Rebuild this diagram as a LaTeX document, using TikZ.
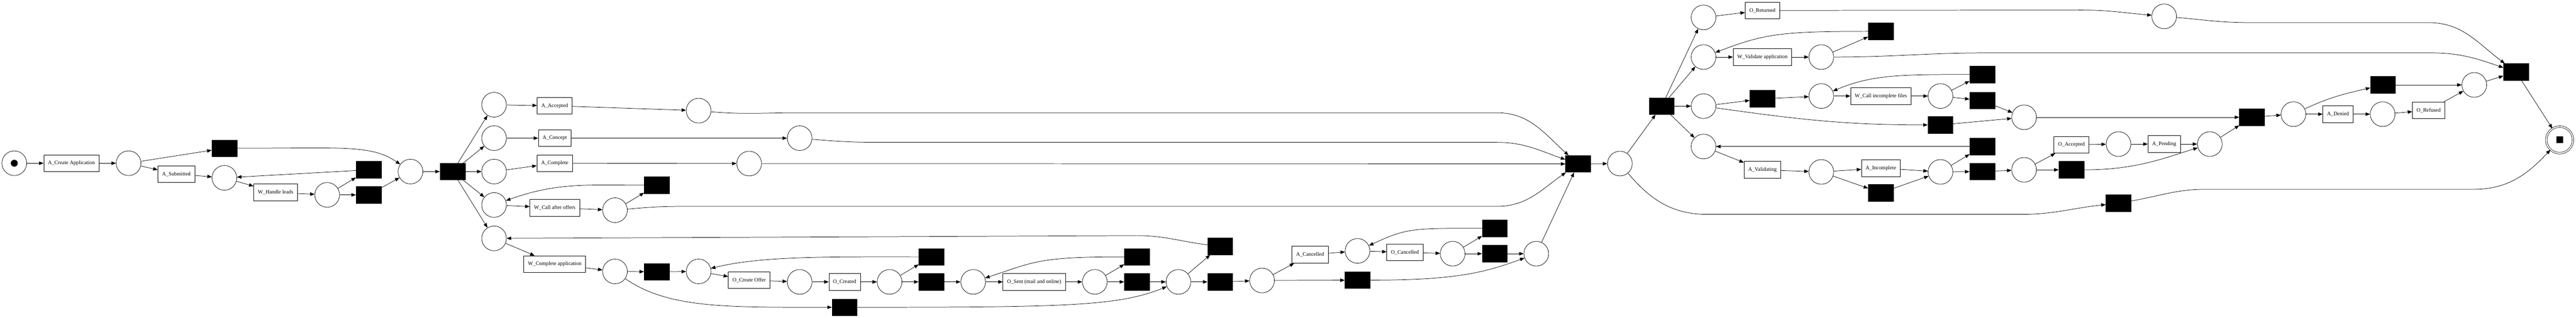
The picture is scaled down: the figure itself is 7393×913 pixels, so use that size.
\documentclass[tikz,border=0pt]{standalone}
\usepackage{fontspec}
\setmainfont{Liberation Serif}
\usetikzlibrary{arrows.meta}

\begin{document}
\begin{tikzpicture}[x=1pt, y=1pt, line width=1.1pt, >={Triangle[length=13pt,width=10pt]},
  placenode/.style={circle, draw, minimum size=71pt, inner sep=0pt},
  transbox/.style={draw, minimum height=48pt, inner xsep=12pt, inner ysep=0pt, font=\fontsize{15.3}{18}\selectfont},
  silent/.style={draw, fill=black, minimum width=72pt, minimum height=48pt, inner sep=0pt}]
\useasboundingbox (0,0) rectangle (7393,-913);
%start and first activities
\node[placenode] (start) at (41,-469) {};
\node[circle, fill=black, minimum size=20pt, inner sep=0pt] (tok0) at (start) {};
\node[transbox] (aCreate) at (205,-469) {A\_Create Application};
\node[placenode] (p1) at (369,-469) {};
\node[silent] (tA) at (644,-426) {};
\node[transbox] (aSub) at (506,-500) {A\_Submitted};
\node[placenode] (p2) at (644,-511) {};
\node[transbox] (wHandle) at (791,-553) {W\_Handle leads};
\node[placenode] (p3) at (939,-560) {};
\node[silent] (tB) at (1058,-488) {};
\node[silent] (tC) at (1058,-560) {};
\node[placenode] (p4) at (1178,-493) {};
\node[silent] (tD) at (1299,-493) {};
%parallel branches
\node[placenode] (pA) at (1418,-301) {};
\node[placenode] (pB) at (1418,-397) {};
\node[placenode] (pC) at (1418,-493) {};
\node[placenode] (pD) at (1418,-589) {};
\node[placenode] (pE) at (1418,-685) {};
\node[transbox] (aAcc) at (1592,-304) {A\_Accepted};
\node[transbox] (aCon) at (1592,-397) {A\_Concept};
\node[transbox] (aCom) at (1592,-469) {A\_Complete};
\node[transbox] (wCall) at (1592,-597) {W\_Call after offers};
\node[transbox] (wComp) at (1592,-759) {W\_Complete application};
\node[placenode] (pA2) at (2005,-318) {};
\node[placenode] (pB2) at (2295,-397) {};
\node[placenode] (pC2) at (2150,-470) {};
\node[placenode] (pD2) at (1765,-604) {};
\node[silent] (tE) at (1885,-532) {};
%offers
\node[placenode] (pF) at (1765,-780) {};
\node[silent] (tF) at (1885,-781) {};
\node[placenode] (pG) at (2005,-780) {};
\node[transbox] (oCreate) at (2150,-805) {O\_Create Offer};
\node[placenode] (pH) at (2295,-810) {};
\node[transbox] (oCreated) at (2424,-810) {O\_Created};
\node[placenode] (pI) at (2553,-810) {};
\node[silent] (tG) at (2673,-738) {};
\node[silent] (tH) at (2673,-810) {};
\node[silent] (tI) at (2424,-883) {};
\node[placenode] (pJ) at (2793,-810) {};
\node[transbox] (oSent) at (2968,-810) {O\_Sent (mail and online)};
\node[placenode] (pK) at (3142,-810) {};
\node[silent] (tJ) at (3263,-738) {};
\node[silent] (tK) at (3263,-810) {};
\node[placenode] (pL) at (3382,-810) {};
\node[silent] (tL) at (3502,-708) {};
\node[silent] (tM) at (3502,-810) {};
%cancellation
\node[placenode] (pM) at (3622,-806) {};
\node[transbox] (aCanc) at (3760,-732) {A\_Cancelled};
\node[silent] (tO) at (3896,-805) {};
\node[placenode] (pN) at (3896,-721) {};
\node[transbox] (oCanc) at (4032,-725) {O\_Cancelled};
\node[placenode] (pO) at (4169,-729) {};
\node[silent] (tP) at (4290,-656) {};
\node[silent] (tQ) at (4290,-729) {};
\node[placenode] (pQ) at (4409,-729) {};
\node[silent] (tN) at (4529,-471) {};
\node[placenode] (pR) at (4649,-470) {};
\node[silent] (tS) at (4769,-305) {};
%validation
\node[placenode] (pS1) at (4889,-50) {};
\node[placenode] (pS2) at (4889,-164) {};
\node[placenode] (pS3) at (4889,-305) {};
\node[placenode] (pS4) at (4889,-421) {};
\node[transbox] (oRet) at (5058,-30) {O\_Returned};
\node[transbox] (wVal) at (5058,-164) {W\_Validate application};
\node[placenode] (pV) at (5227,-164) {};
\node[silent] (tV) at (5398,-90) {};
\node[silent] (tT) at (5058,-284) {};
\node[placenode] (pW) at (5227,-276) {};
\node[transbox] (wCallInc) at (5398,-276) {W\_Call incomplete files};
\node[placenode] (pW2) at (5569,-276) {};
\node[silent] (tX1) at (5689,-214) {};
\node[silent] (tX2) at (5689,-289) {};
\node[silent] (tZ) at (5569,-359) {};
\node[placenode] (pZ) at (5809,-337) {};
\node[transbox] (aVal) at (5058,-488) {A\_Validating};
\node[placenode] (pX) at (5227,-494) {};
\node[transbox] (aInc) at (5398,-483) {A\_Incomplete};
\node[silent] (tU) at (5398,-554) {};
\node[placenode] (pY) at (5569,-494) {};
\node[silent] (tY1) at (5689,-421) {};
\node[silent] (tY2) at (5689,-493) {};
\node[placenode] (pAA) at (5809,-488) {};
\node[transbox] (oAcc) at (5945,-416) {O\_Accepted};
\node[silent] (tAB) at (5945,-488) {};
\node[placenode] (pBB) at (6080,-414) {};
\node[transbox] (aPend) at (6211,-414) {A\_Pending};
\node[placenode] (pCC) at (6342,-414) {};
\node[silent] (tR) at (6463,-337) {};
\node[silent] (tW) at (6080,-584) {};
\node[placenode] (pTop) at (6211,-47) {};
%end
\node[placenode] (pDD) at (6582,-328) {};
\node[transbox] (aDen) at (6710,-328) {A\_Denied};
\node[silent] (tT2) at (6839,-244) {};
\node[placenode] (pEE) at (6838,-328) {};
\node[transbox] (oRef) at (6970,-317) {O\_Refused};
\node[placenode] (pFF) at (7101,-244) {};
\node[silent] (tFin) at (7221,-207) {};
\node[circle, draw, double, double distance=3.5pt, minimum size=76.5pt, inner sep=0pt] (pEnd) at (7346,-402) {};
\node[fill=black, minimum size=19pt, inner sep=0pt] (tok1) at (pEnd) {};
%bends of long arcs
\coordinate (wA1) at (2290,-324);
\coordinate (wA2) at (4296,-324);
\coordinate (wB1) at (2525,-409);
\coordinate (wB2) at (4296,-409);
\coordinate (wD1) at (1955,-593);
\coordinate (wD2) at (4296,-593);
\coordinate (wL) at (3263,-677);
\coordinate (wV1) at (5700,-152);
\coordinate (wV2) at (6976,-152);
\coordinate (wT1) at (6457,-65);
\coordinate (wT2) at (6970,-65);
\coordinate (wR) at (5975,-29);
\coordinate (wP1) at (4900,-616);
\coordinate (wP2) at (5800,-616);
\coordinate (wW1) at (6330,-544);
\coordinate (wW2) at (7100,-544);
%arcs, left part
\draw[->] (start) -- (aCreate);
\draw[->] (aCreate) -- (p1);
\draw[->] (p1) -- (tA);
\draw[->] (p1) -- (aSub);
\draw[->] (aSub) -- (p2);
\draw[->] (p2) -- (wHandle);
\draw[->] (wHandle) -- (p3);
\draw[->] (p3) -- (tB);
\draw[->] (p3) -- (tC);
\draw[->] (tB) -- (p2);
\draw[->] (tC) -- (p4);
\draw[->] (tA) to[out=0, in=145, out distance=300pt, in distance=100pt] (p4);
\draw[->] (p4) -- (tD);
%arcs, parallel branches
\draw[->] (tD) -- (pA);
\draw[->] (tD) -- (pB);
\draw[->] (tD) -- (pC);
\draw[->] (tD) -- (pD);
\draw[->] (tD) -- (pE);
\draw[->] (pA) -- (aAcc);
\draw[->] (aAcc) -- (pA2);
\draw[->] (pB) -- (aCon);
\draw[->] (aCon) -- (pB2);
\draw[->] (pC) -- (aCom);
\draw[->] (aCom) -- (pC2);
\draw[->] (pD) -- (wCall);
\draw[->] (wCall) -- (pD2);
\draw[->] (pD2) -- (tE);
\draw[->] (tE) to[out=180, in=20] (pD);
\draw[->] (pE) -- (wComp);
\draw[->] (wComp) -- (pF);
\draw[->] (pA2) to[out=-5, in=180] (wA1) -- (wA2) to[out=0, in=138] (tN);
\draw[->] (pB2) to[out=-5, in=180] (wB1) -- (wB2) to[out=0, in=161] (tN);
\draw[->] (pC2) -- (tN);
\draw[->] (pD2) to[out=5, in=180] (wD1) -- (wD2) to[out=0, in=215] (tN);
%arcs, offers
\draw[->] (pF) -- (tF);
\draw[->] (tF) -- (pG);
\draw[->] (pF) to[out=-35, in=180, out distance=150pt, in distance=300pt] (tI);
\draw[->] (pG) -- (oCreate);
\draw[->] (oCreate) -- (pH);
\draw[->] (pH) -- (oCreated);
\draw[->] (oCreated) -- (pI);
\draw[->] (pI) -- (tG);
\draw[->] (pI) -- (tH);
\draw[->] (tG) to[out=180, in=14, out distance=250pt, in distance=150pt] (pG);
\draw[->] (tH) -- (pJ);
\draw[->] (pJ) -- (oSent);
\draw[->] (oSent) -- (pK);
\draw[->] (pK) -- (tJ);
\draw[->] (pK) -- (tK);
\draw[->] (tJ) to[out=180, in=18, out distance=250pt, in distance=150pt] (pJ);
\draw[->] (tK) -- (pL);
\draw[->] (tI) to[out=0, in=202, out distance=600pt, in distance=150pt] (pL);
\draw[->] (pL) -- (tL);
\draw[->] (pL) -- (tM);
\draw[->] (tL) to[out=173, in=0] (wL) -- (pE);
\draw[->] (tM) -- (pM);
%arcs, cancellation
\draw[->] (pM) -- (aCanc);
\draw[->] (pM) -- (tO);
\draw[->] (aCanc) -- (pN);
\draw[->] (pN) -- (oCanc);
\draw[->] (oCanc) -- (pO);
\draw[->] (pO) -- (tP);
\draw[->] (pO) -- (tQ);
\draw[->] (tP) to[out=180, in=25, out distance=200pt, in distance=120pt] (pN);
\draw[->] (tQ) -- (pQ);
\draw[->] (tO) to[out=0, in=200, out distance=250pt, in distance=120pt] (pQ);
\draw[->] (pQ) -- (tN);
\draw[->] (tN) -- (pR);
\draw[->] (pR) -- (tS);
%arcs, validation
\draw[->] (tS) -- (pS1);
\draw[->] (tS) -- (pS2);
\draw[->] (tS) -- (pS3);
\draw[->] (tS) -- (pS4);
\draw[->] (pS1) -- (oRet);
\draw[->] (oRet) -- (wR) to[out=0, in=175] (pTop);
\draw[->] (pS2) -- (wVal);
\draw[->] (wVal) -- (pV);
\draw[->] (pV) -- (tV);
\draw[->] (tV) to[out=180, in=21, out distance=250pt, in distance=150pt] (pS2);
\draw[->] (pS3) -- (tT);
\draw[->] (tT) -- (pW);
\draw[->] (pW) -- (wCallInc);
\draw[->] (wCallInc) -- (pW2);
\draw[->] (pW2) -- (tX1);
\draw[->] (pW2) -- (tX2);
\draw[->] (tX1) to[out=180, in=23, out distance=200pt, in distance=120pt] (pW);
\draw[->] (tX2) -- (pZ);
\draw[->] (pS3) to[out=-8, in=180] (tZ);
\draw[->] (tZ) -- (pZ);
\draw[->] (pZ) -- (tR);
\draw[->] (tY1) -- (pS4);
\draw[->] (pS4) -- (aVal);
\draw[->] (aVal) -- (pX);
\draw[->] (pX) -- (aInc);
\draw[->] (pX) -- (tU);
\draw[->] (aInc) -- (pY);
\draw[->] (tU) -- (pY);
\draw[->] (pY) -- (tY1);
\draw[->] (pY) -- (tY2);
\draw[->] (tY2) -- (pAA);
\draw[->] (pAA) -- (oAcc);
\draw[->] (pAA) -- (tAB);
\draw[->] (oAcc) -- (pBB);
\draw[->] (pBB) -- (aPend);
\draw[->] (aPend) -- (pCC);
\draw[->] (tAB) to[out=0, in=197, out distance=150pt, in distance=100pt] (pCC);
\draw[->] (pCC) -- (tR);
\draw[->] (pR) to[out=-50, in=180] (wP1) -- (wP2) to[out=0, in=186] (tW);
%arcs, end
\draw[->] (tR) -- (pDD);
\draw[->] (pDD) -- (aDen);
\draw[->] (aDen) -- (pEE);
\draw[->] (pEE) -- (oRef);
\draw[->] (pDD) to[out=25, in=193] (tT2);
\draw[->] (tT2) -- (pFF);
\draw[->] (oRef) -- (pFF);
\draw[->] (pFF) -- (tFin);
\draw[->] (pV) to[out=0, in=180] (wV1) -- (wV2) to[out=0, in=161] (tFin);
\draw[->] (pTop) to[out=-5, in=180] (wT1) -- (wT2) to[out=0, in=143] (tFin);
\draw[->] (tFin) -- (pEnd);
\draw[->] (tW) to[out=10, in=180] (wW1) -- (wW2) to[out=0, in=227] (pEnd);
\end{tikzpicture}
\end{document}
